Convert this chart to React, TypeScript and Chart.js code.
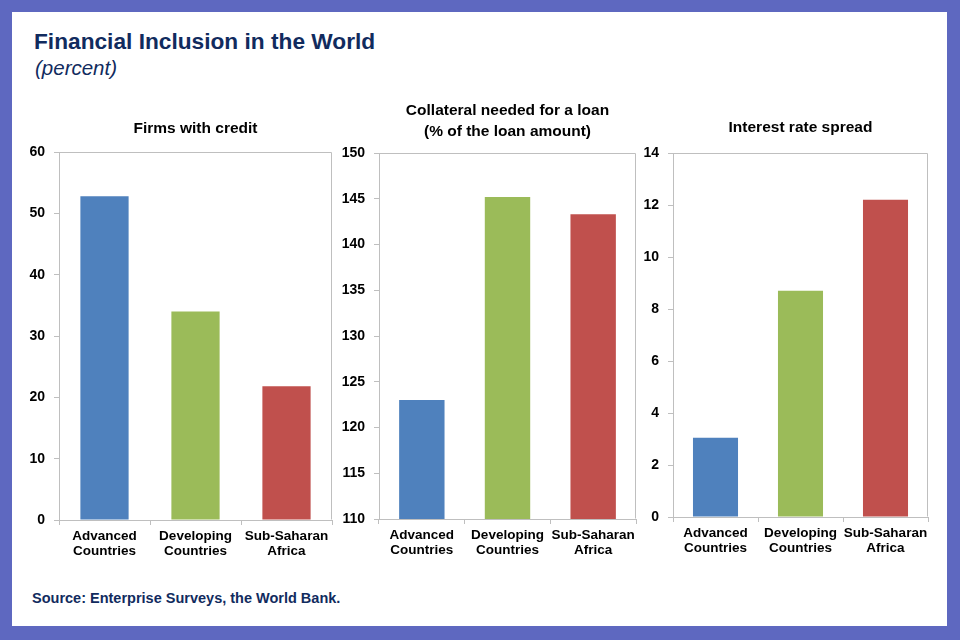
import React, { useEffect, useRef } from "react";
import { Chart, registerables } from "chart.js";

Chart.register(...registerables);

const categories: string[][] = [
  ["Advanced", "Countries"],
  ["Developing", "Countries"],
  ["Sub-Saharan", "Africa"],
];
const barColors = ["#4F81BD", "#9BBB59", "#C0504D"];

const firmsWithCredit = [52.8, 34.0, 21.8];
const collateralNeeded = [123.0, 145.2, 143.3];
const interestSpread = [3.05, 8.7, 12.2];

const firmsTitle = ["Firms with credit"];
const collateralTitle = ["Collateral needed for a loan", "(% of the loan amount)"];
const spreadTitle = ["Interest rate spread"];

const firmsTicks = { min: 0, max: 60, step: 10 };
const collateralTicks = { min: 110, max: 150, step: 5 };
const spreadTicks = { min: 0, max: 14, step: 2 };

const FONT = "'Liberation Sans', Arial, sans-serif";
const AXIS_GRAY = "#BFBFBF";

type PanelLayout = {
  left: number;
  top: number;
  width: number;
  height: number;
  yWidth: number;
  xHeight: number;
  padRight: number;
  titleTop: number;
  titleBottom: number;
};

const framePlugin = {
  id: "frame",
  beforeDatasetsDraw(chart: any) {
    const { ctx, chartArea } = chart;
    const l = Math.round(chartArea.left) + 0.5;
    const r = Math.round(chartArea.right) - 0.5;
    const t = Math.round(chartArea.top) + 0.5;
    const b = Math.round(chartArea.bottom) - 0.5;
    ctx.save();
    ctx.strokeStyle = AXIS_GRAY;
    ctx.lineWidth = 1;
    ctx.beginPath();
    ctx.moveTo(l, t);
    ctx.lineTo(r, t);
    ctx.lineTo(r, b);
    ctx.stroke();
    ctx.restore();
  },
};

function Panel(props: {
  values: number[];
  title: string[];
  ticks: { min: number; max: number; step: number };
  layout: PanelLayout;
}) {
  const ref = useRef<HTMLCanvasElement | null>(null);
  const { values, title, ticks, layout } = props;
  useEffect(() => {
    if (!ref.current) return;
    const chart = new Chart(ref.current, {
      type: "bar",
      data: {
        labels: categories,
        datasets: [
          {
            data: values,
            backgroundColor: barColors,
            borderWidth: 0,
            barPercentage: 0.53,
            categoryPercentage: 1,
          },
        ],
      },
      options: {
        animation: false,
        responsive: false,
        devicePixelRatio: 1,
        layout: { padding: { left: 0, right: layout.padRight, top: 0, bottom: 0 } },
        plugins: {
          legend: { display: false },
          tooltip: { enabled: false },
          title: {
            display: true,
            text: title,
            fullSize: false,
            color: "#000000",
            font: { family: FONT, size: 15.5, weight: "bold", lineHeight: 21 / 15.5 },
            padding: { top: layout.titleTop, bottom: layout.titleBottom },
          },
        },
        scales: {
          x: {
            grid: {
              display: true,
              drawOnChartArea: false,
              drawTicks: true,
              tickLength: 5,
              color: AXIS_GRAY,
              offset: true,
            },
            border: { display: true, color: AXIS_GRAY },
            ticks: {
              color: "#000000",
              font: { family: FONT, size: 13.5, weight: "bold", lineHeight: 15 / 13.5 },
              padding: 4,
              maxRotation: 0,
              autoSkip: false,
            },
            afterFit: (s: any) => {
              s.height = layout.xHeight;
            },
          },
          y: {
            min: ticks.min,
            max: ticks.max,
            grid: {
              display: true,
              drawOnChartArea: false,
              drawTicks: true,
              tickLength: 5,
              color: AXIS_GRAY,
            },
            border: { display: true, color: AXIS_GRAY },
            ticks: {
              stepSize: ticks.step,
              color: "#000000",
              font: { family: FONT, size: 14, weight: "bold" },
              padding: 9,
            },
            afterFit: (s: any) => {
              s.width = layout.yWidth;
            },
          },
        },
      },
      plugins: [framePlugin],
    } as any);
    return () => chart.destroy();
  }, []);
  return (
    <canvas
      ref={ref}
      width={layout.width}
      height={layout.height}
      style={{
        position: "absolute",
        left: layout.left,
        top: layout.top,
        width: layout.width,
        height: layout.height,
      }}
    />
  );
}

const layout1: PanelLayout = {
  left: 16, top: 90, width: 324, height: 480, yWidth: 43, xHeight: 50, padRight: 8,
  titleTop: 28.5, titleBottom: 12.5,
};
const layout2: PanelLayout = {
  left: 342, top: 90, width: 300, height: 479, yWidth: 37, xHeight: 50, padRight: 6,
  titleTop: 10.5, titleBottom: 10.5,
};
const layout3: PanelLayout = {
  left: 644, top: 90, width: 290, height: 477, yWidth: 29, xHeight: 50, padRight: 6,
  titleTop: 27.5, titleBottom: 14.5,
};

export default function App() {
  return (
    <div
      style={{
        position: "absolute",
        left: 0,
        top: 0,
        width: 960,
        height: 640,
        background: "#5E68C0",
        overflow: "hidden",
      }}
    >
      <div
        style={{
          position: "absolute",
          left: 12,
          top: 12,
          width: 935,
          height: 614,
          background: "#FFFFFF",
        }}
      />
      <div
        style={{
          position: "absolute",
          left: 34,
          top: 30,
          fontFamily: FONT,
          fontWeight: "bold",
          fontSize: 22.7,
          lineHeight: 1,
          color: "#112B5E",
          whiteSpace: "nowrap",
        }}
      >
        Financial Inclusion in the World
      </div>
      <div
        style={{
          position: "absolute",
          left: 35,
          top: 58,
          fontFamily: FONT,
          fontStyle: "italic",
          fontSize: 20.5,
          lineHeight: 1,
          color: "#112B5E",
          whiteSpace: "nowrap",
        }}
      >
        (percent)
      </div>
      <Panel values={firmsWithCredit} title={firmsTitle} ticks={firmsTicks} layout={layout1} />
      <Panel values={collateralNeeded} title={collateralTitle} ticks={collateralTicks} layout={layout2} />
      <Panel values={interestSpread} title={spreadTitle} ticks={spreadTicks} layout={layout3} />
      <div
        style={{
          position: "absolute",
          left: 32,
          top: 591,
          fontFamily: FONT,
          fontWeight: "bold",
          fontSize: 14.5,
          lineHeight: 1,
          color: "#112B5E",
          whiteSpace: "nowrap",
        }}
      >
        Source: Enterprise Surveys, the World Bank.
      </div>
    </div>
  );
}
